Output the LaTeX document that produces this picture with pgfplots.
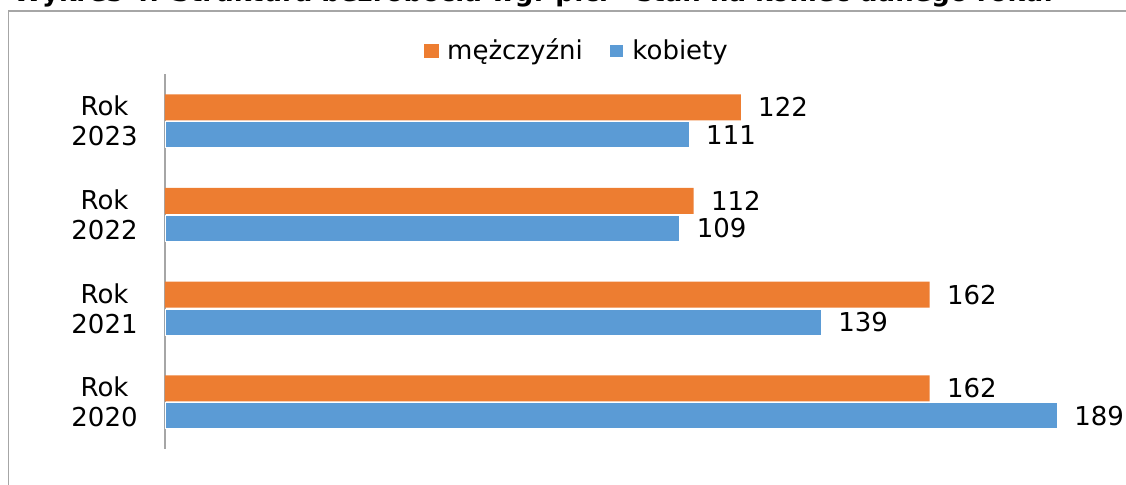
\documentclass[border=0pt]{standalone}
\usepackage{pgfplots}
\pgfplotsset{compat=1.18}
\usepackage{fontspec}
\setmainfont{DejaVu Sans}
\definecolor{orng}{HTML}{ED7D31}
\definecolor{blu}{HTML}{5B9BD5}
\definecolor{frame}{HTML}{A6A6A6}

\begin{document}
\begin{tikzpicture}[x=1pt,y=1pt]
\useasboundingbox (0,0) rectangle (563,242);
\clip (0,0) rectangle (563,242);
% title, cut off by the top edge as in the source
\node[anchor=base west, inner sep=0, font=\bfseries\fontsize{13}{15}\selectfont] at (6.5,241.3)
  {Wykres 4. Struktura bezrobocia wg. płci - stan na koniec danego roku.};
\draw[frame, line width=0.6pt] (4.2,-5) -- (4.2,236.5) -- (600,236.5);
\begin{axis}[
    at={(82.5pt,17.6pt)}, anchor=south west,
    scale only axis, width=472pt, height=187.3pt,
    xbar, bar width=13pt,
    xmin=0, xmax=200, ymin=-0.5, ymax=3.5,
    hide x axis,
    axis y line*=left,
    y axis line style={frame, line width=0.6pt},
    ytick={0,1,2,3},
    yticklabels={Rok\\2020,Rok\\2021,Rok\\2022,Rok\\2023},
    major tick length=0pt,
    yticklabel style={align=center, inner sep=0pt, xshift=-13.5pt,
        font=\fontsize{13}{15}\selectfont},
    /pgf/number format/assume math mode=true,
    nodes near coords,
    nodes near coords style={anchor=west, inner sep=0pt, xshift=8.5pt,
        font=\fontsize{13}{15}\selectfont, text=black},
    legend style={at={(0.4375,1.062)}, anchor=center, draw=none,
        legend columns=2, font=\fontsize{13}{15}\selectfont,
        /tikz/every even column/.append style={column sep=11pt}},
    legend image code/.code={\fill[#1] (0pt,-3.4pt) rectangle (7.2pt,3.4pt); \path (9.5pt,0pt);},
]
\addplot[fill=orng, draw=none, bar shift=6.85pt]
  coordinates {(162,0) (162,1) (112,2) (122,3)};
\addplot[fill=blu, draw=white, line width=0.3pt, bar shift=-6.85pt]
  coordinates {(189,0) (139,1) (109,2) (111,3)};
\legend{mężczyźni,kobiety}
\end{axis}
\end{tikzpicture}
\end{document}
